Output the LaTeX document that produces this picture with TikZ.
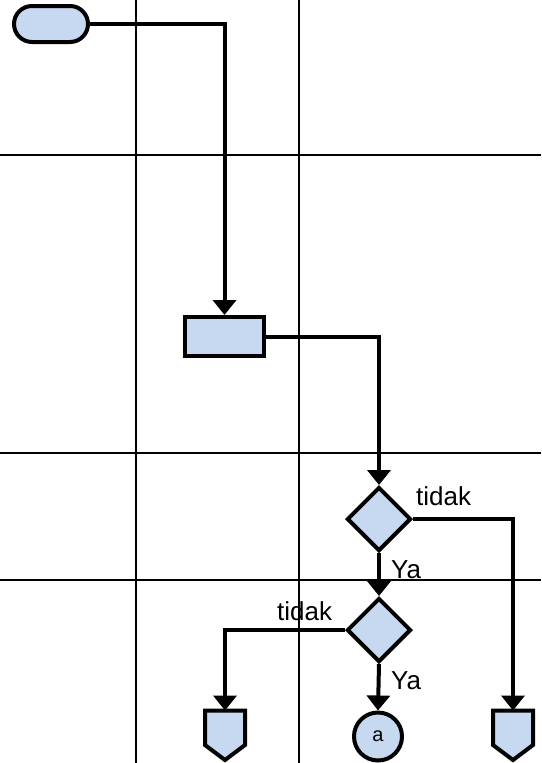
\documentclass[tikz,border=0pt]{standalone}
\usepackage{fontspec}
\setmainfont{Liberation Sans}
\usetikzlibrary{shapes.geometric,arrows.meta}
\definecolor{shapefill}{RGB}{198,217,240}

\begin{document}
\begin{tikzpicture}[x=1pt,y=-1pt,
  conn/.style={line width=4pt, -{Triangle[width=23pt,length=15pt]}},
  box/.style={draw, line width=4pt, fill=shapefill, inner sep=0pt},
  lane/.style={line width=2pt},
  lbl/.style={font=\fontsize{26}{26}\selectfont, inner sep=0pt, anchor=base west}]
\useasboundingbox (0,0) rectangle (541,763);

% swimlane grid
\draw[lane] (136,0) -- (136,763);
\draw[lane] (299,0) -- (299,763);
\draw[lane] (0,155) -- (541,155);
\draw[lane] (0,453) -- (541,453);
\draw[lane] (0,580) -- (541,580);

% flowchart shapes
\node[box, rounded corners=18pt, minimum width=74pt, minimum height=36pt] (start) at (51,24) {};
\node[box, minimum width=79pt, minimum height=39pt] (proc) at (224.5,336.5) {};
\node[box, diamond, aspect=1, minimum size=64pt] (dec1) at (379,519) {};
\node[box, diamond, aspect=1, minimum size=64pt] (dec2) at (379,630) {};
\node[box, circle, minimum size=48pt, font=\fontsize{20}{20}\selectfont] (conA) at (378,736.5) {a};

% off-page connectors
\node[minimum width=40pt, minimum height=49.5pt, inner sep=0pt, outer sep=0pt] (offL) at (225,735.25) {};
\node[minimum width=40pt, minimum height=49.5pt, inner sep=0pt, outer sep=0pt] (offR) at (513,735.25) {};
\foreach \n in {offL,offR}{
  \draw[box] (\n.north west) -- (\n.north east) -- ([yshift=15pt]\n.south east)
    -- (\n.south) -- ([yshift=15pt]\n.south west) -- cycle;
}

% connectors
\draw[conn] (start.east) -| (proc.north);
\draw[conn] (proc.east) -| (dec1.north);
\draw[conn] (dec1.south) -- (dec2.north);
\draw[conn] (dec1.east) -| (offR.north);
\draw[conn] (dec2.west) -| (offL.north);
\draw[conn] (dec2.south) -- (conA.north);

% branch labels
\node[lbl] (t1) at (416,505) {tidak};
\node[lbl] (y1) at (391,578) {Ya};
\node[lbl] (t2) at (277,620) {tidak};
\node[lbl] (y2) at (391,689) {Ya};
\end{tikzpicture}
\end{document}
